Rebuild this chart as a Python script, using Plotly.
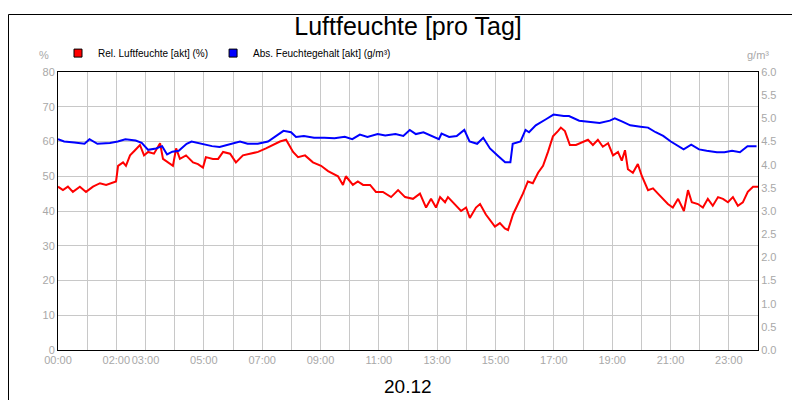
import plotly.graph_objects as go

rel_hours = [0,.17,.34,.51,.75,.96,1.2,1.44,1.65,1.85,1.99,2.06,2.23,2.33,2.47,2.64,2.81,2.95,3.09,3.29,3.5,3.6,3.77,3.94,4.05,4.18,4.39,4.63,4.8,4.97,5.07,5.31,5.49,5.66,5.9,6.1,6.34,6.58,6.86,7.13,7.37,7.61,7.82,8.06,8.23,8.47,8.74,9.02,9.26,9.6,9.77,9.87,10.11,10.28,10.46,10.7,10.9,11.14,11.42,11.66,11.9,12.17,12.41,12.62,12.79,12.96,13.1,13.27,13.37,13.61,13.82,13.99,14.12,14.33,14.47,14.67,14.84,14.98,15.15,15.32,15.43,15.6,15.77,15.94,16.11,16.28,16.46,16.63,16.8,16.97,17.14,17.24,17.38,17.55,17.76,18.0,18.17,18.34,18.51,18.68,18.86,19.03,19.2,19.33,19.44,19.54,19.71,19.88,20.02,20.23,20.4,20.57,20.74,20.91,21.08,21.26,21.46,21.6,21.73,21.94,22.11,22.28,22.45,22.63,22.8,22.97,23.14,23.31,23.48,23.65,23.83,24.0]
rel_values = [47,46,47,45.5,47,45.5,47,48,47.5,48,48.5,53,54,53,56,57.5,59,56,57,56.5,59.5,55,54,53,58,55,56,54,53.5,52.5,55.5,55,55,57,56.5,54,56,56.5,57,58,59,60,60.5,57,55.5,56,54,53,51.5,50,47.5,50,47.5,48.5,47.5,47.5,45.5,45.5,44,46,44,43.5,45,41,43.5,41,44,42.5,44,42,40,41,38,41,42,39,37,35.5,36.5,35,34.5,39,42,45,48.5,48,51,53,57,61.5,63,64,63,59,59,60,60.5,59,60.5,58.5,59.5,56,57,54.5,57.5,52,51,53.5,50,46,46.5,45,43.5,42,41,43.5,40,46,42.5,42,41,43.5,41.5,44,43.5,42.5,44,41.5,42.5,45.5,47,47]

abs_hours = [0,.21,.56,.91,1.08,1.35,1.78,2.05,2.31,2.66,2.87,3.09,3.36,3.57,3.74,3.92,4.14,4.41,4.58,4.93,5.28,5.54,5.8,6.24,6.5,6.85,7.2,7.55,7.73,7.99,8.16,8.43,8.78,9.13,9.48,9.83,10.09,10.35,10.61,10.96,11.22,11.57,11.84,12.06,12.27,12.53,12.8,13.06,13.15,13.41,13.67,13.93,14.11,14.37,14.58,14.81,15.07,15.33,15.51,15.59,15.86,16.03,16.15,16.38,16.73,16.99,17.34,17.52,17.87,18.22,18.57,18.92,19.09,19.35,19.62,19.97,20.23,20.49,20.75,21.01,21.28,21.45,21.71,21.98,22.24,22.59,22.85,23.11,23.38,23.64,23.95]
abs_values = [4.55,4.5,4.48,4.45,4.55,4.45,4.47,4.5,4.55,4.52,4.47,4.32,4.35,4.4,4.22,4.28,4.3,4.45,4.5,4.45,4.4,4.38,4.42,4.5,4.45,4.45,4.5,4.65,4.73,4.7,4.6,4.62,4.58,4.58,4.57,4.6,4.55,4.65,4.6,4.66,4.63,4.66,4.62,4.75,4.66,4.7,4.62,4.55,4.67,4.6,4.62,4.75,4.5,4.45,4.58,4.35,4.2,4.05,4.05,4.45,4.5,4.75,4.7,4.85,4.98,5.08,5.05,5.05,4.95,4.93,4.9,4.95,5.0,4.93,4.85,4.82,4.8,4.7,4.62,4.5,4.4,4.33,4.43,4.33,4.3,4.27,4.27,4.3,4.27,4.4,4.4]

tick_hours = list(range(0, 25))
tick_labels = ["00:00","","02:00","03:00","","05:00","","07:00","","09:00","","11:00","",
               "13:00","","15:00","","17:00","","19:00","","21:00","","23:00",""]
left_ticks = list(range(0, 81, 10))
right_ticks = [i * 0.5 for i in range(13)]

grey = "#a8a8a8"
fig = go.Figure()
fig.add_trace(go.Scatter(x=rel_hours, y=rel_values, mode="lines", line=dict(color="#ff0000", width=2), showlegend=False))
fig.add_trace(go.Scatter(x=abs_hours, y=abs_values, mode="lines", line=dict(color="#0000ff", width=2), yaxis="y2", showlegend=False))
fig.add_trace(go.Scatter(x=[None], y=[None], mode="markers", marker=dict(symbol="square", size=8, color="#ff0000", line=dict(color="black", width=1)), name="Rel. Luftfeuchte [akt] (%)"))
fig.add_trace(go.Scatter(x=[None], y=[None], mode="markers", marker=dict(symbol="square", size=8, color="#0000ff", line=dict(color="black", width=1)), name="Abs. Feuchtegehalt [akt] (g/m³)"))

axis_common = dict(showline=True, linecolor="black", linewidth=1, gridcolor="#c8c8c8", zeroline=False,
                   tickfont=dict(color=grey, size=11, family="Liberation Sans"), ticks="", automargin=False)
fig.update_layout(
    width=800, height=400, paper_bgcolor="white", plot_bgcolor="white",
    margin=dict(l=50, r=50, t=64, b=58, autoexpand=False),
    title=dict(text="Luftfeuchte [pro Tag]", x=0.5, xanchor="center", xref="paper", yref="container", y=0.955, yanchor="middle",
               font=dict(size=25, color="black", family="Liberation Sans")),
    font=dict(family="Liberation Sans"),
    xaxis=dict(range=[0, 24], tickmode="array", tickvals=tick_hours, ticktext=tick_labels, tickangle=0, mirror=True, **axis_common),
    yaxis=dict(range=[0, 80], tickmode="array", tickvals=left_ticks, ticktext=[str(v) for v in left_ticks], mirror=True, **axis_common),
    yaxis2=dict(range=[0, 6], overlaying="y", side="right", tickmode="array", tickvals=right_ticks,
                ticktext=[f"{v:.1f}" for v in right_ticks], showgrid=False, **axis_common),
    legend=dict(orientation="h", x=0.0, y=1.068, xanchor="left", yanchor="middle",
                font=dict(size=10, color="black"), bgcolor="rgba(0,0,0,0)", itemwidth=30, tracegroupgap=0),
    shapes=[dict(type="rect", xref="paper", yref="paper", x0=-49.5/286*0+(-49.5/700), x1=749.5/700, y0=-57.5/278, y1=335.5/278,
                 line=dict(color="black", width=1))],
    annotations=[
        dict(text="%", xref="paper", yref="paper", x=-0.01, y=1.06, xanchor="right", yanchor="middle", showarrow=False, font=dict(size=11, color=grey)),
        dict(text="g/m³", xref="paper", yref="paper", x=1.0, y=1.06, xanchor="center", yanchor="middle", showarrow=False, font=dict(size=11, color=grey)),
        dict(text="20.12", xref="paper", yref="paper", x=0.5, y=-0.13, xanchor="center", yanchor="middle", showarrow=False, font=dict(size=19, color="black")),
    ],
)
fig.write_html("out.html")
